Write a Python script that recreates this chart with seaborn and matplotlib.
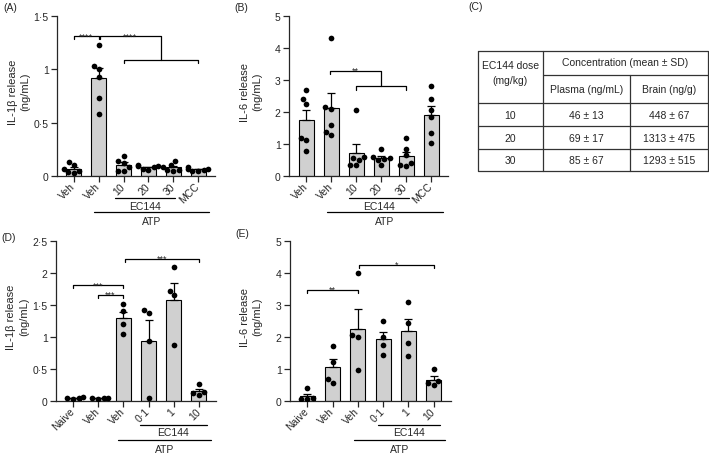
import numpy as np
import pandas as pd
import matplotlib.pyplot as plt
import seaborn as sns
from matplotlib.transforms import blended_transform_factory, ScaledTranslation

sns.set_style("ticks")
plt.rcParams['font.family'] = ['Liberation Sans', 'DejaVu Sans']

# ---- data ----
# (A) IL-1b release, ng/mL
a_labels = ["Veh", "Veh", "10", "20", "30", "MCC"]
a_values = [
    [0.10, 0.13, 0.05, 0.03, 0.07, 0.04],
    [1.23, 1.03, 1.00, 0.93, 0.73, 0.58],
    [0.19, 0.14, 0.12, 0.08, 0.05, 0.05],
    [0.10, 0.09, 0.09, 0.08, 0.07, 0.06],
    [0.14, 0.10, 0.08, 0.06, 0.05, 0.06],
    [0.08, 0.07, 0.06, 0.05, 0.05, 0.07],
]
# (B) IL-6 release, ng/mL
b_labels = ["Veh", "Veh", "10", "20", "30", "MCC"]
b_values = [
    [2.70, 2.40, 2.25, 1.20, 1.12, 0.78],
    [4.30, 2.15, 2.10, 1.58, 1.38, 1.27],
    [2.05, 0.60, 0.50, 0.35, 0.35, 0.55],
    [0.85, 0.60, 0.55, 0.52, 0.50, 0.35],
    [1.18, 0.85, 0.65, 0.40, 0.32, 0.35],
    [2.80, 2.40, 2.05, 1.85, 1.35, 1.02],
]
# (C) EC144 concentrations
c_dose = ["10", "20", "30"]
c_plasma = ["46 ± 13", "69 ± 17", "85 ± 67"]
c_brain = ["448 ± 67", "1313 ± 475", "1293 ± 515"]
# (D) IL-1b release, ng/mL
d_labels = ["Naive", "Veh", "Veh", "0·1", "1", "10"]
d_values = [
    [0.03, 0.06, 0.05, 0.04],
    [0.03, 0.05, 0.05, 0.04],
    [1.52, 1.40, 1.20, 1.05],
    [1.37, 1.42, 0.93, 0.05],
    [2.10, 1.72, 1.65, 0.87],
    [0.26, 0.14, 0.12, 0.10],
]
# (E) IL-6 release, ng/mL
e_labels = ["Naive", "Veh", "Veh", "0·1", "1", "10"]
e_values = [
    [0.40, 0.10, 0.05, 0.05],
    [1.73, 1.22, 0.70, 0.57],
    [4.00, 2.05, 2.00, 0.97],
    [2.50, 2.00, 1.75, 1.45],
    [3.10, 2.45, 1.80, 1.40],
    [1.00, 0.62, 0.55, 0.50],
]

ticks_1b_ab = [0, 0.5, 1, 1.5]
ticklabels_1b_ab = ["0", "0·5", "1", "1·5"]
ticks_1b_d = [0, 0.5, 1, 1.5, 2, 2.5]
ticklabels_1b_d = ["0", "0·5", "1", "1·5", "2", "2·5"]
ticks_il6 = [0, 1, 2, 3, 4, 5]
ticklabels_il6 = ["0", "1", "2", "3", "4", "5"]

FS = 7.5

W, H = 709, 456
fig = plt.figure(figsize=(W / 100, H / 100), dpi=100)


def panel(ax, groups, labels, yticks, yticklabels, ylabel):
    df = pd.DataFrame({"g": np.repeat(np.arange(len(groups)), [len(g) for g in groups]),
                       "v": np.concatenate(groups)})
    sns.barplot(data=df, x="g", y="v", errorbar=None, color="#d0d0d0",
                edgecolor="black", linewidth=0.8, width=0.6, ax=ax)
    means = df.groupby("g")["v"].mean()
    sems = df.groupby("g")["v"].sem()
    ax.errorbar(means.index, means.values, yerr=[np.zeros(len(means)), sems.values],
                fmt="none", ecolor="black", elinewidth=0.9, capsize=3, capthick=0.9, zorder=3)
    sns.swarmplot(data=df, x="g", y="v", color="black", size=4.1, ax=ax, zorder=4)
    sns.despine(ax=ax)
    ax.set_xlim(-0.68, 5.68)
    ax.set_ylim(0, yticks[-1])
    ax.set_yticks(yticks)
    ax.set_yticklabels(yticklabels, fontsize=FS)
    ax.set_xticks(range(len(labels)))
    ax.set_xticklabels(labels, fontsize=FS, rotation=45, ha="right", va="center",
                       rotation_mode="anchor")
    shift = ScaledTranslation(0.5 / 72, -2.5 / 72, fig.dpi_scale_trans)
    for t in ax.get_xticklabels():
        t.set_transform(t.get_transform() + shift)
    ax.tick_params(length=4, width=0.9, pad=2)
    ax.set_xlabel("")
    ax.set_ylabel(ylabel, fontsize=8, linespacing=1.3)
    ax.yaxis.set_label_coords(-0.17, 0.53)
    for s in ax.spines.values():
        s.set_linewidth(0.9)


def bracket(ax, x1, x2, y, h, text):
    ax.plot([x1, x1, x2, x2], [y - h, y, y, y - h], color="black", lw=0.9, clip_on=False)
    if text:
        ax.annotate(text, ((x1 + x2) / 2, y), xytext=(0, -1.5), textcoords="offset points",
                    ha="center", va="baseline", fontsize=6.5)


def group_line(ax, x1, x2, y, text, ty):
    tr = blended_transform_factory(ax.transData, ax.transAxes)
    ax.plot([x1, x2], [y, y], color="black", lw=0.9, transform=tr, clip_on=False)
    ax.text((x1 + x2) / 2, ty, text, transform=tr, ha="center", va="center", fontsize=FS)


def axes_px(left, top, width, height):
    return fig.add_axes([left / W, 1 - (top + height) / H, width / W, height / H])


# (A)
axA = axes_px(57, 17, 158, 160)
panel(axA, a_values, a_labels, ticks_1b_ab, ticklabels_1b_ab, "IL-1β release\n(ng/mL)")
bracket(axA, 0, 1, 1.31, 0.03, "****")
axA.plot([1.05, 1.05, 3.5, 3.5], [1.28, 1.31, 1.31, 1.09], color="black", lw=0.9)
axA.annotate("****", (2.25, 1.31), xytext=(0, -1.5), textcoords="offset points",
             ha="center", va="baseline", fontsize=6.5)
bracket(axA, 2, 5, 1.09, 0.03, "")
group_line(axA, 1.66, 4.05, -0.139, "EC144", -0.19)
group_line(axA, 0.81, 5.44, -0.227, "ATP", -0.28)

# (B)
axB = axes_px(289, 17, 159, 160)
panel(axB, b_values, b_labels, ticks_il6, ticklabels_il6, "IL-6 release\n(ng/mL)")
axB.plot([0.95, 0.95, 3.0, 3.0], [3.18, 3.28, 3.28, 2.8], color="black", lw=0.9)
axB.annotate("**", (1.97, 3.28), xytext=(0, -1.5), textcoords="offset points",
             ha="center", va="baseline", fontsize=6.5)
bracket(axB, 2, 4, 2.8, 0.1, "")
group_line(axB, 1.7, 4.1, -0.139, "EC144", -0.19)
group_line(axB, 0.83, 5.47, -0.227, "ATP", -0.28)

# (D)
axD = axes_px(56, 242, 160, 160)
panel(axD, d_values, d_labels, ticks_1b_d, ticklabels_1b_d, "IL-1β release\n(ng/mL)")
bracket(axD, 0, 2, 1.81, 0.05, "***")
bracket(axD, 1, 1.97, 1.66, 0.05, "***")
bracket(axD, 2.05, 5, 2.22, 0.05, "***")
group_line(axD, 2.66, 5.31, -0.152, "EC144", -0.195)
group_line(axD, 1.78, 5.48, -0.245, "ATP", -0.298)

# (E)
axE = axes_px(290, 242, 161, 160)
panel(axE, e_values, e_labels, ticks_il6, ticklabels_il6, "IL-6 release\n(ng/mL)")
bracket(axE, 0, 2, 3.47, 0.1, "**")
bracket(axE, 2.05, 5, 4.25, 0.1, "*")
group_line(axE, 2.78, 5.26, -0.152, "EC144", -0.195)
group_line(axE, 1.86, 5.43, -0.245, "ATP", -0.298)

# (C) table, drawn in pixel units of its own axes
axC = axes_px(478, 52, 230, 120)
axC.set_xlim(0, 230)
axC.set_ylim(120, 0)
axC.axis("off")
cx = [0, 65, 152, 230]
ry = [0, 24, 52, 75, 98, 120]
lk = dict(color="#333333", lw=0.9, clip_on=False)
axC.plot([0, 230, 230, 0, 0], [0, 0, 120, 120, 0], **lk)
axC.plot([cx[1], cx[1]], [0, 120], **lk)
axC.plot([cx[2], cx[2]], [ry[1], 120], **lk)
axC.plot([cx[1], 230], [ry[1], ry[1]], **lk)
for y in ry[2:5]:
    axC.plot([0, 230], [y, y], **lk)
axC.text(cx[0] + 32.5, 14, "EC144 dose", ha="center", va="center", fontsize=FS)
axC.text(cx[0] + 32.5, 29, "(mg/kg)", ha="center", va="center", fontsize=FS)
axC.text((cx[1] + cx[3]) / 2, 11, "Concentration (mean ± SD)", ha="center", va="center", fontsize=FS)
axC.text((cx[1] + cx[2]) / 2, 38, "Plasma (ng/mL)", ha="center", va="center", fontsize=FS)
axC.text((cx[2] + cx[3]) / 2, 38, "Brain (ng/g)", ha="center", va="center", fontsize=FS)
for i in range(len(c_dose)):
    yc = (ry[2 + i] + ry[3 + i]) / 2
    axC.text((cx[0] + cx[1]) / 2, yc, c_dose[i], ha="center", va="center", fontsize=FS)
    axC.text((cx[1] + cx[2]) / 2, yc, c_plasma[i], ha="center", va="center", fontsize=FS)
    axC.text((cx[2] + cx[3]) / 2, yc, c_brain[i], ha="center", va="center", fontsize=FS)

# panel letters
for lab, x, y in [("(A)", 10, 8), ("(B)", 241, 8), ("(C)", 476, 7), ("(D)", 9, 238), ("(E)", 242, 234)]:
    fig.text(x / W, 1 - y / H, lab, ha="center", va="center", fontsize=7.5)

plt.savefig("out.png", dpi=100)
